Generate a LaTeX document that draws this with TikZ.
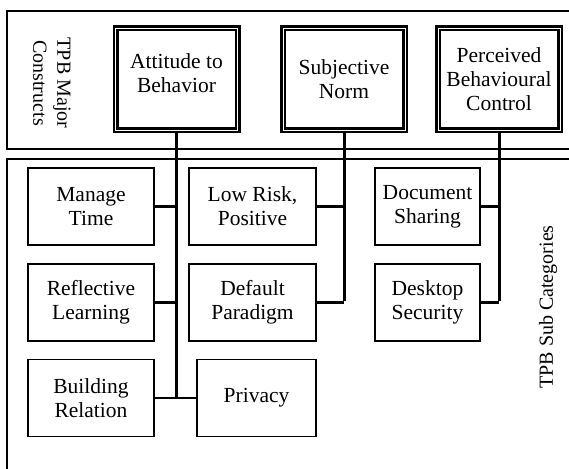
\documentclass[tikz,border=0pt]{standalone}
\usepackage{fontspec}
\setmainfont{Liberation Serif}
\begin{document}
\begin{tikzpicture}[x=1pt,y=-1pt,
  major/.style={draw, line width=2.6pt, double=white, double distance=0.8pt,
    minimum width=122pt, minimum height=102pt, align=center, inner sep=0pt,
    font=\fontsize{21.5}{24}\selectfont},
  subbox/.style={draw, line width=1.2pt, minimum height=77pt, align=center, inner sep=0pt,
    font=\fontsize{21.5}{24}\selectfont},
  conn/.style={line width=3pt},
  branch/.style={line width=2.4pt},
  panel/.style={line width=1.2pt},
  side/.style={align=center, inner sep=0pt, font=\fontsize{20}{24}\selectfont}]
\useasboundingbox (0,0) rectangle (569,468);
\clip (0,0) rectangle (569,468);
% panels
\draw[panel] (7,11) rectangle (590,149);
\draw[panel] (7,159) rectangle (590,490);
% side labels
\node[side, rotate=-90] (lblmajor) at (52,83) {TPB Major\\Constructs};
\node[side, rotate=90] (lblsub) at (548,307) {TPB Sub Categories};
% major constructs
\node[major] (att) at (176.5,79) {\raisebox{3pt}[\height][\depth]{\begin{tabular}{@{}c@{}}Attitude to\\Behavior\end{tabular}}};
\node[major] (sn) at (344,79) {Subjective\\Norm};
\node[major] (pbc) at (499,79) {Perceived\\Behavioural\\Control};
% sub categories
\node[subbox, minimum width=126pt] (mt) at (91,206.5) {Manage\\Time};
\node[subbox, minimum width=126pt] (rl) at (91,302.5) {Reflective\\Learning};
\node[subbox, minimum width=126pt] (br) at (91,398) {Building\\Relation};
\node[subbox, minimum width=127pt] (lr) at (252.5,206.5) {Low Risk,\\Positive};
\node[subbox, minimum width=127pt] (dp) at (252.5,302.5) {Default\\Paradigm};
\node[subbox, minimum width=119pt] (pr) at (256.5,398) {Privacy};
\node[subbox, minimum width=105pt] (ds) at (427.5,206.5) {Document\\Sharing};
\node[subbox, minimum width=105pt] (dsec) at (427.5,302.5) {Desktop\\Security};
% connectors
\coordinate (j1) at (att.south |- br.east);
\coordinate (j2) at (sn.south |- dp.east);
\coordinate (j3) at (pbc.south |- dsec.east);
\draw[conn] (att.south) -- (j1);
\draw[conn] (sn.south) -- ([yshift=1.2pt]j2);
\draw[conn] (pbc.south) -- ([yshift=1.2pt]j3);
\draw[branch] (mt.east) -- (mt.east -| j1);
\draw[branch] (rl.east) -- (rl.east -| j1);
\draw[branch] (br.east) -- (pr.west);
\draw[branch] (lr.east) -- (lr.east -| j2);
\draw[branch] (dp.east) -- (j2);
\draw[branch] (ds.east) -- (ds.east -| j3);
\draw[branch] (dsec.east) -- (j3);
\end{tikzpicture}
\end{document}
